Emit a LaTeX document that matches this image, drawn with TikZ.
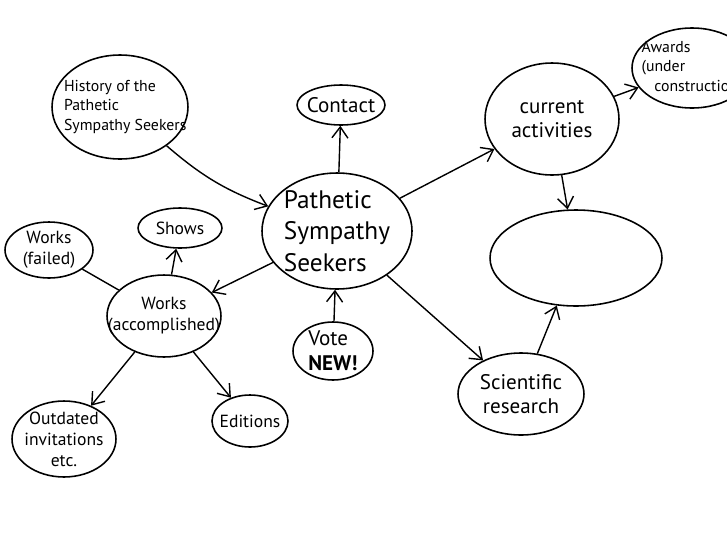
\documentclass[tikz,border=0pt]{standalone}
\usepackage{fontspec}
\setmainfont{PT Sans}
\usetikzlibrary{arrows.meta,shapes.geometric}
\tikzset{
  bubble/.style={
    ellipse,
    draw,
    inner sep=0pt,
    line width=0.9pt
  },
  txt/.style={align=center,font=\normalsize,inner sep=0pt},
  small/.style={txt,font=\small},
  big/.style={txt,font=\large},
  flow/.style={-{Straight Barb[length=2.2mm,width=3.2mm]},line width=0.8pt},
  link/.style={line width=0.8pt}
}

\begin{document}
\begin{tikzpicture}[x=0.02cm,y=-0.02cm]
  \useasboundingbox (0,0) rectangle (727,545);

  % Centre of the map.
  \node[bubble,minimum width=3.00cm,minimum height=2.32cm,
        label={[big,font=\Large,align=left]center:{Pathetic\\Sympathy\\Seekers}}] (pss) at (337,231) {};

  % Upper left and top.
  \node[bubble,minimum width=2.72cm,minimum height=2.08cm,
        label={[small,align=left,xshift=3pt]center:{History of the\\Pathetic\\Sympathy Seekers}}] (hist) at (120,107) {};
  \node[bubble,minimum width=1.76cm,minimum height=0.80cm,
        label={[big]center:{Contact}}] (contact) at (341,105) {};
  \draw[flow] (hist) to[bend right=10] (pss);
  \draw[flow] (pss) -- (contact);

  % Right side.
  \node[bubble,minimum width=2.68cm,minimum height=2.24cm,
        label={[big]center:{current\\activities}}] (current) at (552,119) {};
  \node[bubble,minimum width=2.40cm,minimum height=1.60cm,
        label={[small,align=left]center:{Awards\\(under\\\hspace*{0.8em}construction)}}] (awards) at (692,68) {};
  \node[bubble,minimum width=3.44cm,minimum height=1.92cm] (blank) at (576,258) {};
  \node[bubble,minimum width=2.52cm,minimum height=1.64cm,
        label={[big]center:{Scientific\\research}}] (sci) at (521,394) {};
  \draw[flow] (pss) -- (current);
  \draw[flow] (current) -- (awards);
  \draw[flow] (current) -- (blank);
  \draw[flow] (pss) -- (sci);
  \draw[flow] (sci) -- (blank);

  % Vote.
  \node[bubble,minimum width=1.60cm,minimum height=1.16cm,
        label={[big,align=left]center:{Vote\\\textbf{NEW!}}}] (vote) at (333,351) {};
  \draw[flow] (vote) -- (pss);

  % Works branch.
  \node[bubble,minimum width=2.28cm,minimum height=1.64cm,
        label={[txt]center:{Works\\(accomplished)}}] (works) at (164,316) {};
  \node[bubble,minimum width=1.68cm,minimum height=0.80cm,
        label={[txt]center:{Shows}}] (shows) at (180,228) {};
  \node[bubble,minimum width=1.76cm,minimum height=1.12cm,
        label={[txt]center:{Works\\(failed)}}] (failed) at (49,250) {};
  \node[bubble,minimum width=2.08cm,minimum height=1.52cm,
        label={[txt]center:{Outdated\\invitations\\etc.}}] (outdated) at (64,439) {};
  \node[bubble,minimum width=1.52cm,minimum height=1.04cm,
        label={[txt]center:{Editions}}] (editions) at (250,421) {};
  \draw[flow] (pss) -- (works);
  \draw[flow] (works) -- (shows);
  \draw[link] (failed) -- (works);
  \draw[flow] (works) -- (outdated);
  \draw[flow] (works) -- (editions);
\end{tikzpicture}
\end{document}
